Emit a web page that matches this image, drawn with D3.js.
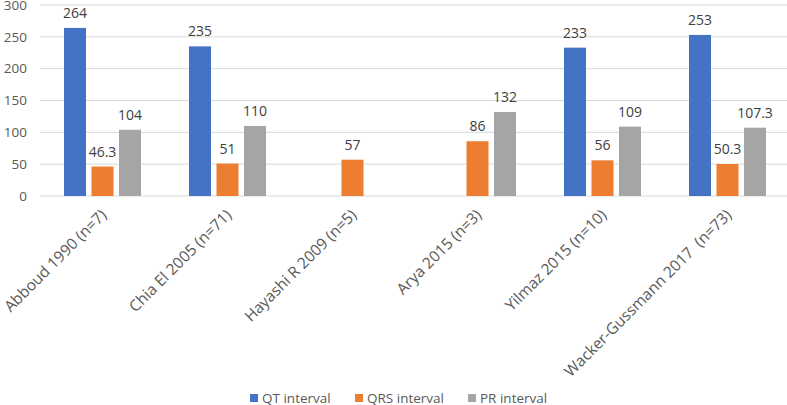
<!DOCTYPE html>
<html><head><meta charset="utf-8">
<script src="https://cdn.jsdelivr.net/npm/d3@7"></script>
<style>body{margin:0;background:#fff;} text{font-family:"Open Sans",sans-serif;}</style>
</head><body>
<svg id="chart" width="787" height="405"></svg>
<script>
const categories = ["Abboud 1990 (n=7)", "Chia El 2005 (n=71)", "Hayashi R 2009 (n=5)", "Arya 2015 (n=3)", "Yilmaz 2015 (n=10)", "Wacker-Gussmann 2017\u00a0\u00a0(n=73)"];
const seriesNames = ["QT interval", "QRS interval", "PR interval"];
const qtValues = [264, 235, null, null, 233, 253];
const qrsValues = [46.3, 51, 57, 86, 56, 50.3];
const prValues = [104, 110, null, 132, 109, 107.3];
const yTicks = [0, 50, 100, 150, 200, 250, 300];
const colors = ["#4472C4", "#ED7D31", "#A5A5A5"];

const seriesValues = [qtValues, qrsValues, prValues];
const svg = d3.select("#chart");
const x0 = d3.scaleBand().domain(categories).range([40, 790]).padding(0);
const x1 = d3.scaleBand().domain(seriesNames).range([0, x0.bandwidth()]).paddingInner(0.2).paddingOuter(0.873);
const y = d3.scaleLinear().domain([0, 300]).range([196, 5]);

// gridlines
svg.append("g").selectAll("line").data(yTicks).join("line")
  .attr("x1", 40).attr("x2", 787)
  .attr("y1", d => y(d)).attr("y2", d => y(d))
  .attr("stroke", "#d9d9d9").attr("stroke-width", 1);

// y axis labels
const yAxis = d3.axisLeft(y).tickValues(yTicks).tickSize(0).tickPadding(0);
const ya = svg.append("g").attr("transform", "translate(27,0)").call(yAxis);
ya.select(".domain").remove();
ya.selectAll("text").attr("font-size", 13.5).attr("fill", "#595959").style("font-family", "'Open Sans',sans-serif");

// bars
const groups = svg.append("g").selectAll("g").data(categories).join("g")
  .attr("transform", d => `translate(${x0(d)},0)`);
const barData = (c, i) => seriesNames.map((s, k) => ({s, k, v: seriesValues[k][i]})).filter(d => d.v !== null);
groups.each(function(c, i) {
  const g = d3.select(this);
  const data = barData(c, i);
  g.selectAll("rect").data(data).join("rect")
    .attr("x", d => x1(d.s)).attr("width", x1.bandwidth())
    .attr("y", d => y(d.v)).attr("height", d => y(0) - y(d.v))
    .attr("fill", d => colors[d.k]);
  g.selectAll("text").data(data).join("text")
    .attr("x", d => x1(d.s) + x1.bandwidth() / 2)
    .attr("y", d => y(d.v) - 10)
    .attr("text-anchor", "middle").attr("font-size", 14).attr("fill", "#404040")
    .text(d => d.v);
});

// x axis category labels
const xa = d3.axisBottom(x0).tickSize(0).tickPadding(0);
const xg = svg.append("g").attr("transform", "translate(0,196)").call(xa);
xg.select(".domain").remove();
xg.selectAll("text")
  .attr("font-size", 15.5).attr("fill", "#595959").style("font-family", "'Open Sans',sans-serif")
  .attr("text-anchor", "end")
  .attr("dy", "0")
  .attr("transform", "translate(5,20) rotate(-45)");

// legend
const legendX = [250, 355, 468];
const lg = svg.append("g").selectAll("g").data(seriesNames).join("g")
  .attr("transform", (d, i) => `translate(${legendX[i]},398)`);
lg.append("rect").attr("x", 0).attr("y", -4).attr("width", 8).attr("height", 8).attr("fill", (d, i) => colors[i]);
lg.append("text").attr("x", 12).attr("y", 4.5).attr("font-size", 13.5).attr("fill", "#595959").text(d => d);
</script>
</body></html>
